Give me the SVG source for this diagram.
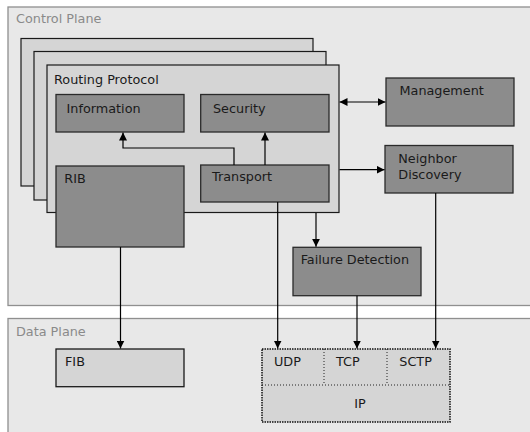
<svg xmlns="http://www.w3.org/2000/svg" width="530" height="432" viewBox="0 0 530 432">
<defs>
<style>
text{font-family:"DejaVu Sans",sans-serif;font-size:12.8px;fill:#1a1a1a}
.plane{fill:#e8e8e8;stroke:#8f8f8f;stroke-width:1.3}
.plabel{fill:#8a8a8a}
.stack{fill:#d5d5d5;stroke:#1a1a1a;stroke-width:1.2}
.box{fill:#8c8c8c;stroke:#2a2a2a;stroke-width:1.3}
.lbox{fill:#d5d5d5;stroke:#1a1a1a;stroke-width:1.3}
.dot{fill:none;stroke:#222;stroke-width:1;stroke-dasharray:1,2}
.c{fill:none;stroke:#000;stroke-width:1.2}
</style>
<marker id="ah" viewBox="0 0 10 10" refX="10" refY="5" markerWidth="8" markerHeight="8" markerUnits="userSpaceOnUse" orient="auto-start-reverse">
<path d="M0,0 L10,5 L0,10 z" fill="#000"/>
</marker>
</defs>
<g id="control-plane">
<rect class="plane" x="8" y="7" width="540" height="298.5"/>
<text class="plabel" x="16" y="23">Control Plane</text>
</g>
<g id="data-plane">
<rect class="plane" x="8" y="318.5" width="540" height="130"/>
<text class="plabel" x="16" y="336">Data Plane</text>
</g>
<g id="routing-protocol">
<rect class="stack" x="21" y="38.5" width="292" height="147.5"/>
<rect class="stack" x="34" y="51.5" width="292" height="148.5"/>
<rect class="stack" x="47" y="65" width="292" height="147.5"/>
<text x="54" y="84">Routing Protocol</text>
</g>
<g id="information">
<rect class="box" x="56" y="94.5" width="128" height="37.5"/>
<text x="66.5" y="112.7">Information</text>
</g>
<g id="security">
<rect class="box" x="200.7" y="94.5" width="128.3" height="37.5"/>
<text x="213" y="112.7">Security</text>
</g>
<g id="rib">
<rect class="box" x="56" y="166" width="128" height="81"/>
<text x="64.3" y="183.3">RIB</text>
</g>
<g id="transport">
<rect class="box" x="200.7" y="165" width="128.3" height="37"/>
<text x="212" y="180.7">Transport</text>
</g>
<g id="management">
<rect class="box" x="386" y="78" width="128" height="48"/>
<text x="399.5" y="95">Management</text>
</g>
<g id="neighbor-discovery">
<rect class="box" x="385" y="145.5" width="128" height="47.5"/>
<text x="398.3" y="163.3">Neighbor</text>
<text x="398.3" y="179.3">Discovery</text>
</g>
<g id="failure-detection">
<rect class="box" x="293" y="247.3" width="128" height="48.4"/>
<text x="300.7" y="264.3">Failure Detection</text>
</g>
<g id="fib">
<rect class="lbox" x="56" y="349" width="128" height="37.7"/>
<text x="65" y="366">FIB</text>
</g>
<g id="protocol-stack">
<rect class="lbox" x="262" y="349" width="188" height="73" style="stroke:#111;stroke-width:1.5;stroke-dasharray:1.5,1"/>
<line class="dot" x1="324" y1="349" x2="324" y2="385"/>
<line class="dot" x1="387" y1="349" x2="387" y2="385"/>
<line class="dot" x1="262" y1="385" x2="450" y2="385"/>
<text x="274" y="366">UDP</text>
<text x="336" y="366">TCP</text>
<text x="399.3" y="366">SCTP</text>
<text x="360" y="407.7" text-anchor="middle">IP</text>
</g>
<g id="connectors">
<line class="c" x1="339.5" y1="102" x2="385.5" y2="102" marker-start="url(#ah)" marker-end="url(#ah)"/>
<polyline class="c" points="234,165 234,148 123,148 123,132.5" marker-end="url(#ah)"/>
<line class="c" x1="265" y1="165" x2="265" y2="132.5" marker-end="url(#ah)"/>
<line class="c" x1="339.5" y1="169.7" x2="384.5" y2="169.7" marker-end="url(#ah)"/>
<line class="c" x1="316" y1="213" x2="316" y2="246.8" marker-end="url(#ah)"/>
<line class="c" x1="120.5" y1="247" x2="120.5" y2="348.5" marker-end="url(#ah)"/>
<line class="c" x1="277.7" y1="202" x2="277.7" y2="348.5" marker-end="url(#ah)"/>
<line class="c" x1="357" y1="295.7" x2="357" y2="348.5" marker-end="url(#ah)"/>
<line class="c" x1="435.7" y1="193" x2="435.7" y2="348.5" marker-end="url(#ah)"/>
</g>
</svg>
